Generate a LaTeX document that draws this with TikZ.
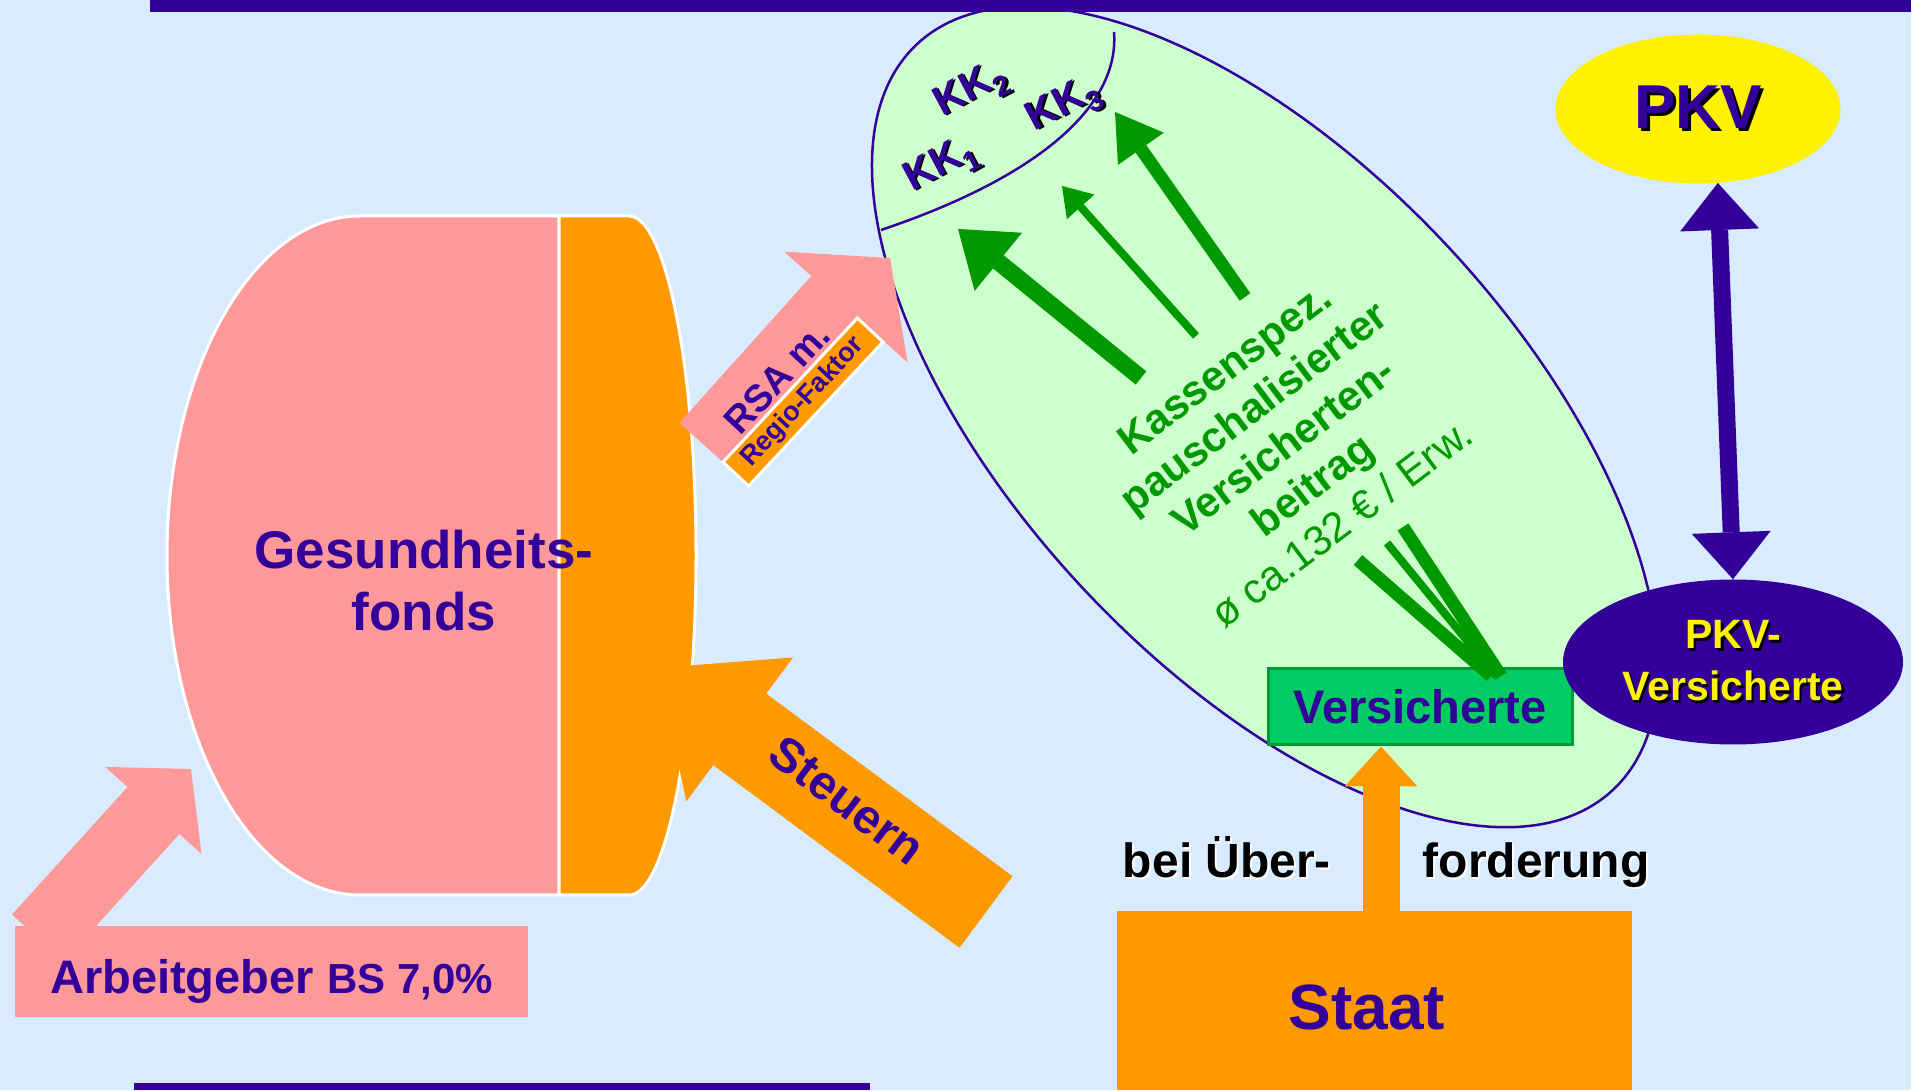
\documentclass[tikz,border=0pt]{standalone}
\usepackage{fontspec}
\setmainfont{Liberation Sans}
\usetikzlibrary{arrows.meta,shapes.geometric}

\definecolor{bgblue}{RGB}{217,235,255}
\definecolor{kvpurple}{RGB}{51,0,153}
\definecolor{fondspink}{RGB}{255,153,153}
\definecolor{taxorange}{RGB}{255,153,0}
\definecolor{poolgreen}{RGB}{204,255,204}
\definecolor{arrowgreen}{RGB}{0,153,0}
\definecolor{versgreen}{RGB}{0,204,102}
\definecolor{versedge}{RGB}{0,153,51}

\newcommand{\fsz}[2]{\fontsize{#1}{#2}\selectfont}
\newcommand{\shtxt}[3]{\leavevmode\rlap{\kern#2\raisebox{-#2}{\textcolor{#1}{#3}}}#3}

\tikzset{
  fatarrow/.style n args={3}{line width=#1pt,-{Triangle[width=#2pt 0 0,length=#3pt 0 0,line width=0pt 0 0]}},
  fatboth/.style n args={3}{line width=#1pt,{Triangle[width=#2pt 0 0,length=#3pt 0 0,line width=0pt 0 0]}-{Triangle[width=#2pt 0 0,length=#3pt 0 0,line width=0pt 0 0]}},
  kvtext/.style={text=kvpurple},
}

\begin{document}
\begin{tikzpicture}[x=1pt,y=1pt]
    \useasboundingbox (0,0) rectangle (1914,1090);
    \fill [bgblue] (0,0) rectangle (1911,1090);

    % GKV pool with the Kassen
    \node [ellipse, draw=kvpurple, line width=2.5pt, fill=poolgreen, minimum width=1020pt, minimum height=500pt, inner sep=0pt, rotate=-47] (pool) at (1265,673) {};
    \draw [kvpurple, line width=2.5pt] (881,860) .. controls (1030,910) and (1120,980) .. (1114,1058);

    \fill [kvpurple] (150,1078) rectangle (1911,1090); % top bar
    \fill [kvpurple] (134,0) rectangle (870,7); % bottom bar

    \node [kvtext, font=\bfseries\fsz{41}{44}, rotate=28] (kk1) at (942,923) {\shtxt{black}{2pt}{KK\textsubscript{1}}};
    \node [kvtext, font=\bfseries\fsz{41}{44}, rotate=28] (kk2) at (972,998) {\shtxt{black}{2pt}{KK\textsubscript{2}}};
    \node [kvtext, font=\bfseries\fsz{41}{44}, rotate=28] (kk3) at (1065,983) {\shtxt{black}{2pt}{KK\textsubscript{3}}};

    \node [text=arrowgreen, font=\bfseries\fsz{42}{48.6}, align=center, rotate=37] (beitrag) at (1283,644) {Kassenspez.\\pauschalisierter\\Versicherten-\\beitrag\\{\mdseries ø ca.132 € / Erw.}};

    \draw [arrowgreen, fatarrow={17}{75}{52}] (1141,712) -- (958,861); % to KK1
    \draw [arrowgreen, fatarrow={8}{37}{28}] (1196,754) -- (1062,904);
    \draw [arrowgreen, fatarrow={13}{56}{45}] (1245,793) -- (1115,978);

    % Versicherte
    \node [draw=versedge, line width=3pt, fill=versgreen, minimum width=304pt, minimum height=76pt, inner sep=0pt, kvtext, font=\bfseries\fsz{47}{50}, text height=34pt, text depth=0pt] (vers) at (1420,383) {Versicherte};
    \coordinate (fan) at (1496,414);
    \draw [arrowgreen, line width=13pt] (1358,530) -- ([xshift=-5pt]fan);
    \draw [arrowgreen, line width=8pt] (1387,547) -- (fan);
    \draw [arrowgreen, line width=13pt] (1403,563) -- ([xshift=5pt]fan);

    % PKV
    \node [ellipse, fill=yellow, minimum width=285pt, minimum height=149pt, inner sep=0pt, kvtext, font=\bfseries\fsz{62}{70}] (pkv) at (1698,981) {\shtxt{black}{3pt}{PKV}};
    \node [ellipse, fill=kvpurple, minimum width=340pt, minimum height=165pt, inner sep=0pt, text=yellow, font=\bfseries\fsz{41}{52}, align=center] (pkvv) at (1733,428) {\shtxt{black}{2.5pt}{PKV-}\\\shtxt{black}{2.5pt}{Versicherte}};
    \draw [kvpurple, fatboth={17}{79}{47}] (pkvv.north) -- (pkv.-75);

    % Staat
    \node [fill=taxorange, minimum width=515pt, minimum height=179pt, inner sep=0pt] (staat) at (1374.5,89.5) {};
    \node [kvtext, font=\bfseries\fsz{64}{70}, anchor=base] (staattxt) at (1367,61) {Staat};
    \draw [taxorange, fatarrow={37}{73}{40}] ([xshift=6.5pt]staat.north) -- ([xshift=-39pt]vers.south);
    \node [anchor=base, font=\bfseries\fsz{48}{50}] (ueber) at (1227,212) {\shtxt{white}{2pt}{bei Über-}};
    \node [anchor=base, font=\bfseries\fsz{48}{50}] (forder) at (1536,212) {\shtxt{white}{2pt}{forderung}};

    % Arbeitgeber
    \draw [fondspink, fatarrow={70}{130}{56}] (38,152) -- (191,321);
    \node [fill=fondspink, minimum width=513pt, minimum height=91pt, inner sep=0pt, kvtext, font=\bfseries\fsz{47}{50}, text height=43pt, text depth=0pt] (ag) at (271.5,118.5) {Arbeitgeber {\fsz{42}{45}BS 7,0\%}};

    % Gesundheitsfonds
    \filldraw [fill=fondspink, draw=white, line width=3pt] (559,874) -- (360,874) arc [start angle=90, end angle=270, x radius=193, y radius=339.5] -- (559,195) -- cycle;
    \filldraw [fill=taxorange, draw=white, line width=3pt] (559,874) -- (629,874) arc [start angle=90, end angle=-90, x radius=67, y radius=339.5] -- (559,195) -- cycle;
    \node [kvtext, font=\bfseries\fsz{53}{62}, align=center] (fonds) at (424,509.5) {Gesundheits-\\fonds};

    % RSA
    \draw [fondspink, fatarrow={93}{166}{66}] (714,636) -- (890,832);
    \node [draw=white, line width=3pt, fill=taxorange, minimum width=197pt, minimum height=35pt, inner sep=0pt, rotate=47, kvtext, font=\bfseries\fsz{27}{30}] (regio) at (803,688) {Regio-Faktor};
    \node [kvtext, font=\bfseries\fsz{38}{40}, rotate=47] (rsa) at (777,712) {RSA m.};

    % Steuern
    \draw [taxorange, fatarrow={89}{179}{103}] (986,178) -- (657,422);
    \node [kvtext, font=\bfseries\fsz{48}{50}, rotate=-37] (steuern) at (847,290) {Steuern};
\end{tikzpicture}
\end{document}
